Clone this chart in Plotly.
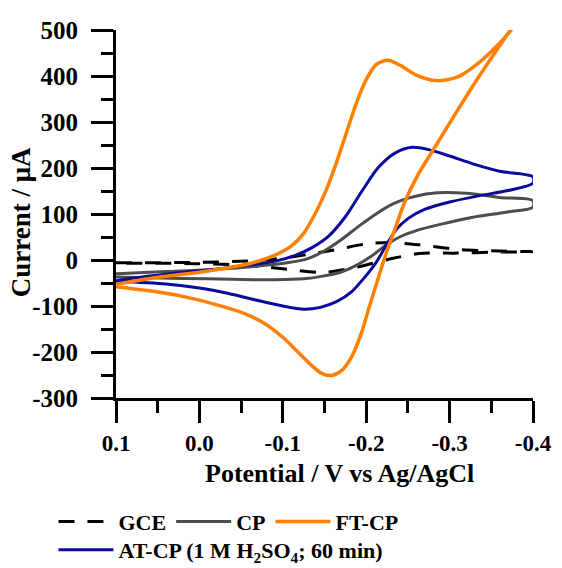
import plotly.graph_objects as go

# ---------------- data ----------------
gce_E = [0.1, 0.0, -0.07, -0.108, -0.14, -0.168, -0.2, -0.228, -0.264, -0.31, -0.35, -0.4,
         -0.35, -0.31, -0.264, -0.228, -0.188, -0.148, -0.105, -0.06, 0.0, 0.1]
gce_I = [-6, -5, -1, 6, 15, 24, 35, 38, 33, 23, 20, 18,
         17, 15, 14, 2, -16, -27, -20, -12, -8, -7]

cp_E = [0.1, 0.04, -0.02, -0.07, -0.105, -0.13, -0.15, -0.17, -0.19, -0.21, -0.232, -0.258, -0.285,
        -0.32, -0.36, -0.4,
        -0.4, -0.368, -0.328, -0.29, -0.26, -0.24, -0.222, -0.206, -0.19, -0.17, -0.148, -0.125,
        -0.09, -0.04, 0.02, 0.1]
cp_I = [-30, -25, -20, -13, -6, 3, 20, 44, 72, 98, 122, 138, 146,
        145, 136, 129,
        115, 104, 93, 78, 64, 50, 30, 8, -10, -26, -35, -41,
        -43, -42, -40, -37]

ft_E = [0.1, 0.06, 0.02, -0.02, -0.06, -0.09, -0.11, -0.125, -0.14, -0.152, -0.164, -0.176, -0.188,
        -0.2, -0.212, -0.226, -0.242, -0.26, -0.284, -0.31, -0.336, -0.356, -0.372, -0.4,
        -0.36, -0.336, -0.308, -0.284, -0.262, -0.246, -0.234, -0.224, -0.214, -0.204, -0.194,
        -0.182, -0.17, -0.158, -0.146, -0.132, -0.116, -0.1, -0.08, -0.055, -0.02, 0.02, 0.06, 0.1]
ft_I = [-53, -40, -31, -21, -8, 10, 30, 58, 105, 152, 210, 275, 340,
        392, 425, 434, 422, 402, 390, 398, 430, 464, 496, 570,
        466, 401, 321, 250, 185, 125, 65, 15, -42, -100, -160,
        -212, -241, -251, -246, -225, -196, -168, -140, -117, -97, -79, -67, -58]

at_E = [0.1, 0.06, 0.02, -0.02, -0.06, -0.09, -0.115, -0.135, -0.155, -0.175, -0.195, -0.215, -0.235,
        -0.255, -0.275, -0.3, -0.33, -0.36, -0.4,
        -0.4, -0.37, -0.336, -0.3, -0.27, -0.25, -0.236, -0.224, -0.212, -0.198, -0.182, -0.165,
        -0.145, -0.125, -0.1, -0.07, -0.035, 0.0, 0.04, 0.1]
at_I = [-45, -35, -27, -20, -11, -3, 10, 27, 52, 94, 150, 202, 233,
        245, 240, 226, 208, 193, 181,
        167, 151, 140, 126, 110, 90, 66, 32, -5, -38, -70, -90,
        -103, -107, -100, -88, -73, -61, -52, -46]

x_ticks = [0.1, 0.0, -0.1, -0.2, -0.3, -0.4]
x_ticktext = ["0.1", "0.0", "-0.1", "-0.2", "-0.3", "-0.4"]
x_minor = [0.05, -0.05, -0.15, -0.25, -0.35]
y_ticks = [-300, -200, -100, 0, 100, 200, 300, 400, 500]
y_ticktext = ["-300", "-200", "-100", "0", "100", "200", "300", "400", "500"]
y_minor = [-250, -150, -50, 50, 150, 250, 350, 450]

FONT = "Liberation Serif"

fig = go.Figure()
fig.add_trace(go.Scatter(x=gce_E, y=gce_I, mode="lines", name="GCE", legendrank=1, legend="legend",
                         line=dict(color="black", width=3, dash="16px,13px", shape="spline", smoothing=0.8)))
fig.add_trace(go.Scatter(x=cp_E, y=cp_I, mode="lines", name="CP", legendrank=2, legend="legend",
                         line=dict(color="#4d4d4d", width=3, shape="spline", smoothing=0.8)))
fig.add_trace(go.Scatter(x=at_E, y=at_I, mode="lines", name="AT-CP (1 M H<sub>2</sub>SO<sub>4</sub>; 60 min)",
                         legendrank=4, legend="legend2",
                         line=dict(color="#0a0a9c", width=3, shape="spline", smoothing=0.8)))
fig.add_trace(go.Scatter(x=ft_E, y=ft_I, mode="lines", name="FT-CP", legendrank=3, legend="legend",
                         line=dict(color="#ff8000", width=3.5, shape="spline", smoothing=0.8)))

axis_common = dict(
    showline=True, linewidth=3, linecolor="black", showgrid=False, zeroline=False,
    ticks="outside", ticklen=22, tickwidth=3, tickcolor="black",
)

fig.update_xaxes(range=[0.1, -0.4], tickmode="array", tickvals=x_ticks, ticktext=x_ticktext,
                 tickfont=dict(family=FONT, size=23, color="black", weight="bold"),
                 minor=dict(tickmode="array", tickvals=x_minor, ticks="outside", ticklen=12,
                            tickwidth=3, tickcolor="black", showgrid=False),
                 ticklabelstandoff=0, **axis_common)
fig.update_yaxes(range=[-300, 500], tickmode="array", tickvals=y_ticks, ticktext=y_ticktext,
                 tickfont=dict(family=FONT, size=25, color="black", weight="bold"),
                 minor=dict(tickmode="array", tickvals=y_minor, ticks="outside", ticklen=12,
                            tickwidth=3, tickcolor="black", showgrid=False),
                 ticklabelstandoff=8, **axis_common)

fig.add_annotation(text="Potential / V vs Ag/AgCl", xref="paper", yref="paper",
                   x=0.537, y=-0.206, xanchor="center", yanchor="middle", showarrow=False,
                   font=dict(family=FONT, size=26, color="black", weight="bold"))
fig.add_annotation(text="Current / μA", xref="paper", yref="paper", textangle=-90,
                   x=-0.229, y=0.476, xanchor="center", yanchor="middle", showarrow=False,
                   font=dict(family=FONT, size=27, color="black", weight="bold"))

leg_font = dict(family=FONT, size=22, color="black", weight="bold")
fig.update_layout(
    width=562, height=568,
    margin=dict(l=116, r=29, t=30, b=170, autoexpand=False),
    paper_bgcolor="white", plot_bgcolor="white",
    showlegend=True,
    legend=dict(orientation="h", x=-0.15, y=-0.279, xanchor="left", yanchor="top",
                font=leg_font, itemwidth=55, traceorder="normal", bgcolor="rgba(0,0,0,0)"),
    legend2=dict(orientation="h", x=-0.15, y=-0.356, xanchor="left", yanchor="top",
                 font=leg_font, itemwidth=55, bgcolor="rgba(0,0,0,0)"),
)

fig.write_html("out.html")
